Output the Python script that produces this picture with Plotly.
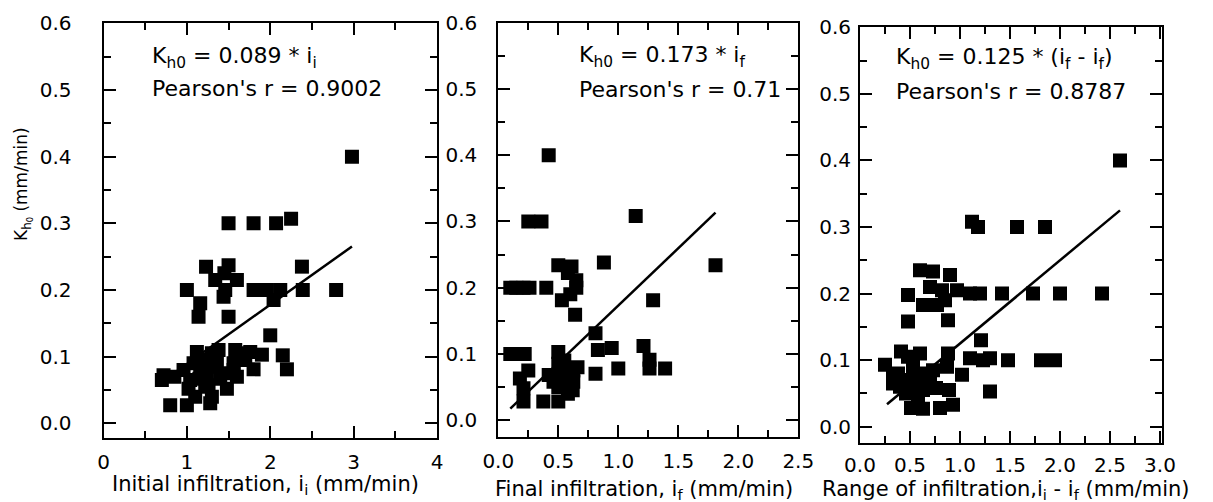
import plotly.graph_objects as go

W, H = 1213, 502

# ---------------- data ----------------
# Panel 1: initial infiltration i_i vs Kh0
ii_x = [2.98, 1.50, 1.80, 2.07, 2.25, 1.23, 1.50, 2.38, 1.34, 1.60, 1.45,
        1.00, 1.46, 1.80, 1.96, 2.12, 2.39, 2.79, 1.16, 1.44, 2.04, 1.14, 1.50,
        2.00, 2.15, 2.20, 1.90, 1.76, 1.58, 1.38, 1.12, 1.30, 0.72, 0.70, 0.96,
        1.16, 1.80, 1.56, 1.36, 1.56, 1.02, 1.48, 1.26, 0.80, 1.00, 1.28, 1.24,
        1.40, 1.15, 1.04, 1.65, 1.20, 1.30, 1.10, 0.85, 1.70, 1.45, 1.32, 1.22,
        1.60, 1.08]
ii_y = [0.400, 0.300, 0.300, 0.300, 0.307, 0.235, 0.237, 0.235, 0.215, 0.215, 0.225,
        0.200, 0.200, 0.200, 0.200, 0.200, 0.200, 0.200, 0.180, 0.190, 0.185, 0.160, 0.160,
        0.132, 0.102, 0.081, 0.103, 0.107, 0.110, 0.110, 0.107, 0.105, 0.072, 0.065, 0.080,
        0.080, 0.081, 0.080, 0.090, 0.090, 0.052, 0.052, 0.057, 0.027, 0.027, 0.030, 0.075,
        0.067, 0.067, 0.065, 0.105, 0.095, 0.040, 0.040, 0.070, 0.095, 0.075, 0.085, 0.055,
        0.070, 0.090]

# Panel 2: final infiltration i_f vs Kh0
if_x = [0.42, 0.25, 0.36, 1.145, 0.50, 0.61, 0.88, 1.81, 0.10, 0.21, 0.26, 0.40,
        0.65, 0.65, 0.60, 0.53, 0.64, 1.29, 0.58, 0.81, 0.83, 0.945, 1.21, 1.26,
        1.26, 1.39, 1.00, 0.81, 0.10, 0.15, 0.22, 0.25, 0.18, 0.21, 0.21, 0.375,
        0.50, 0.50, 0.50, 0.625, 0.625, 0.50, 0.62, 0.42, 0.55, 0.66, 0.46, 0.55, 0.58,
        0.60, 0.52, 0.15]
if_y = [0.400, 0.300, 0.300, 0.308, 0.234, 0.232, 0.238, 0.234, 0.200, 0.200, 0.200, 0.200,
        0.211, 0.200, 0.190, 0.181, 0.159, 0.181, 0.222, 0.131, 0.106, 0.109, 0.112, 0.091,
        0.078, 0.078, 0.078, 0.070, 0.100, 0.100, 0.100, 0.075, 0.063, 0.048, 0.028, 0.028,
        0.028, 0.103, 0.085, 0.075, 0.058, 0.050, 0.045, 0.068, 0.065, 0.080, 0.058, 0.090, 0.040,
        0.060, 0.072, 0.200]

# Panel 3: range of infiltration i_i - i_f vs Kh0
rg_x = [2.60, 1.12, 1.18, 1.57, 1.85, 0.60, 0.73, 0.90, 0.48, 0.70, 0.82, 0.97,
        0.63, 0.77, 0.85, 1.10, 1.20, 1.42, 1.73, 2.00, 2.42, 0.48, 0.88, 1.21,
        0.41, 0.60, 0.48, 0.88, 1.10, 1.30, 1.48, 1.81, 1.95, 1.23, 0.25, 1.02,
        1.30, 0.33, 0.33, 0.46, 0.60, 0.73, 0.63, 0.46, 0.76, 0.87, 0.53, 0.89,
        0.51, 0.63, 0.80, 0.93, 0.40, 0.55, 0.70, 0.68, 0.38, 0.58]
rg_y = [0.400, 0.308, 0.300, 0.300, 0.300, 0.235, 0.233, 0.228, 0.198, 0.210, 0.205, 0.205,
        0.183, 0.183, 0.190, 0.200, 0.200, 0.200, 0.200, 0.200, 0.200, 0.158, 0.160, 0.130,
        0.113, 0.110, 0.105, 0.110, 0.103, 0.103, 0.100, 0.100, 0.100, 0.100, 0.093, 0.078,
        0.053, 0.065, 0.075, 0.070, 0.080, 0.085, 0.055, 0.050, 0.058, 0.090, 0.090, 0.055,
        0.028, 0.027, 0.028, 0.033, 0.060, 0.065, 0.070, 0.062, 0.080, 0.045]

# Fits (Kh0 = slope * x) and x-extent of the fitted line
slopes = [0.089, 0.173, 0.125]
fit_x = [[0.82, 2.98], [0.10, 1.81], [0.27, 2.60]]

eq_texts = ["K<sub>h0</sub> = 0.089 * i<sub>i</sub>",
            "K<sub>h0</sub> = 0.173 * i<sub>f</sub>",
            "K<sub>h0</sub> = 0.125 * (i<sub>f</sub> - i<sub>f</sub>)"]
r_texts = ["Pearson's r = 0.9002", "Pearson's r = 0.71", "Pearson's r = 0.8787"]
x_titles = ["Initial infiltration, i<sub>i</sub> (mm/min)",
            "Final infiltration, i<sub>f</sub> (mm/min)",
            "Range of infiltration,i<sub>i</sub> - i<sub>f</sub> (mm/min)"]
y_title = "K<sub>h<sub>0</sub></sub> (mm/min)"

# ---------------- layout helpers ----------------
def px(x):
    return x / W

def py(y):
    return 1 - y / H

FONT = "DejaVu Sans"
panels = [
    dict(l=103.5, r=437, t=23.3, b=438, xr=[0, 4], yr=[-0.022, 0.6], dt=1, mdt=0.5, fmt="d",
         ystand=26, xstand=5),
    dict(l=498.3, r=798.3, t=22.7, b=436.7, xr=[0, 2.5], yr=[-0.025, 0.6], dt=0.5, mdt=0.25, fmt=".1f",
         ystand=15, xstand=5),
    dict(l=860, r=1162, t=27.3, b=442.7, xr=[0, 3.02], yr=[-0.024, 0.6], dt=0.5, mdt=0.25, fmt=".1f",
         ystand=3, xstand=3),
]

fig = go.Figure()
datasets = [(ii_x, ii_y), (if_x, if_y), (rg_x, rg_y)]

for i, (xs, ys) in enumerate(datasets):
    sfx = "" if i == 0 else str(i + 1)
    fig.add_trace(go.Scatter(x=xs, y=ys, mode="markers", xaxis="x" + sfx, yaxis="y" + sfx,
                             marker=dict(symbol="square", size=14, color="black", line=dict(width=0)),
                             showlegend=False, hoverinfo="skip"))
    lx = fit_x[i]
    ly = [slopes[i] * v for v in lx]
    fig.add_trace(go.Scatter(x=lx, y=ly, mode="lines", xaxis="x" + sfx, yaxis="y" + sfx,
                             line=dict(color="black", width=2.5), showlegend=False, hoverinfo="skip"))

layout = dict(width=W, height=H, margin=dict(l=0, r=0, t=0, b=0, autoexpand=False),
              paper_bgcolor="white", plot_bgcolor="white", showlegend=False,
              font=dict(family=FONT, size=20, color="black"))

for i, p in enumerate(panels):
    sfx = "" if i == 0 else str(i + 1)
    common = dict(showline=True, linecolor="black", linewidth=2, mirror="allticks",
                  ticks="inside", ticklen=12, tickwidth=2, tickcolor="black",
                  showgrid=False, zeroline=False, automargin=False,
                  tickfont=dict(family=FONT, size=20, color="black"))
    layout["xaxis" + sfx] = dict(common, domain=[px(p["l"]), px(p["r"])], range=p["xr"],
                                  anchor="y" + sfx, tick0=0, dtick=p["dt"], tickformat=p["fmt"],
                                  ticklabelstandoff=p["xstand"],
                                  minor=dict(dtick=p["mdt"], tick0=0, ticks="inside", ticklen=7,
                                             tickwidth=2, tickcolor="black", showgrid=False))
    layout["yaxis" + sfx] = dict(common, domain=[py(p["b"]), py(p["t"])], range=p["yr"],
                                  anchor="x" + sfx, tick0=0, dtick=0.1, tickformat=".1f",
                                  ticklabelstandoff=p["ystand"],
                                  minor=dict(dtick=0.05, tick0=0, ticks="inside", ticklen=7,
                                             tickwidth=2, tickcolor="black", showgrid=False))

annotations = []
eq_pos = [(150, 57, 88), (576.7, 56, 89), (894, 58, 91)]
for i in range(3):
    x0, y1, y2 = eq_pos[i]
    annotations.append(dict(text=eq_texts[i], x=px(x0), y=py(y1), xref="paper", yref="paper",
                            xanchor="left", yanchor="middle", align="left", showarrow=False,
                            font=dict(family=FONT, size=22, color="black")))
    annotations.append(dict(text=r_texts[i], x=px(x0), y=py(y2), xref="paper", yref="paper",
                            xanchor="left", yanchor="middle", align="left", showarrow=False,
                            font=dict(family=FONT, size=22, color="black")))

title_pos = [(110, 485), (493, 490), (820, 490)]
for i in range(3):
    x0, y0 = title_pos[i]
    annotations.append(dict(text=x_titles[i], x=px(x0), y=py(y0), xref="paper", yref="paper",
                            xanchor="left", yanchor="middle", align="left", showarrow=False,
                            font=dict(family=FONT, size=21, color="black")))

annotations.append(dict(text=y_title, x=px(23), y=py(184), xref="paper", yref="paper",
                        xanchor="center", yanchor="middle", textangle=-90, showarrow=False,
                        font=dict(family=FONT, size=17, color="black")))
layout["annotations"] = annotations

fig.update_layout(**layout)
fig.write_html("out.html")
